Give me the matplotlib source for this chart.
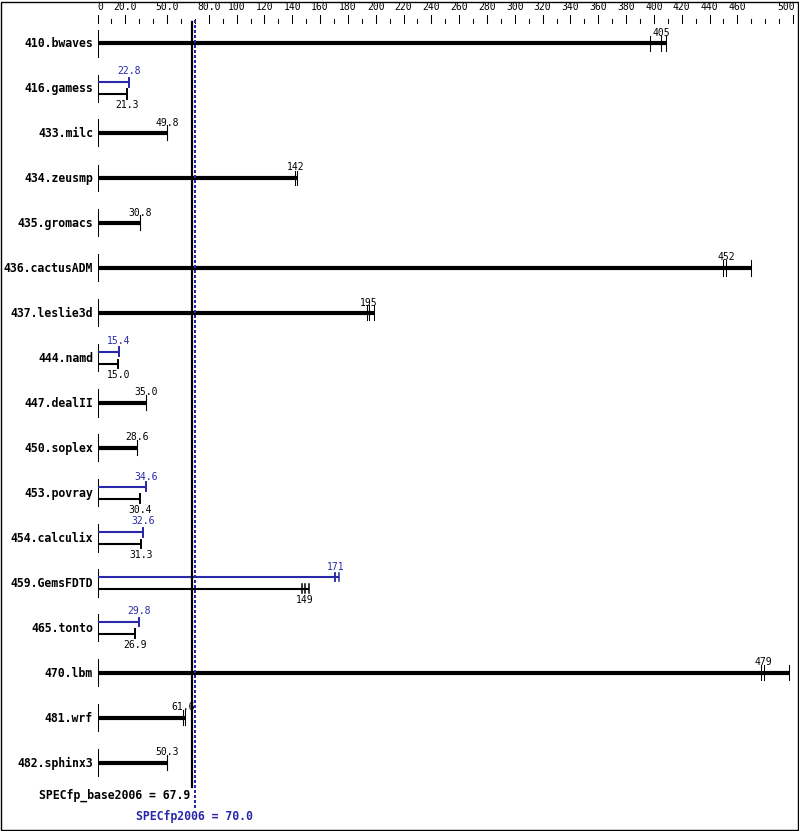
import matplotlib
matplotlib.use("Agg")
import matplotlib.pyplot as plt
from matplotlib.patches import Rectangle
import numpy as np

benchmarks = ["410.bwaves", "416.gamess", "433.milc", "434.zeusmp", "435.gromacs",
              "436.cactusADM", "437.leslie3d", "444.namd", "447.dealII", "450.soplex",
              "453.povray", "454.calculix", "459.GemsFDTD", "465.tonto", "470.lbm",
              "481.wrf", "482.sphinx3"]

# three runs per benchmark (base), peak only where it differs from base
base_runs = [[397, 405, 409], [21.3, 21.3, 21.3], [49.8, 49.8, 49.8],
             [142, 142.3, 143.7], [30.8, 30.8, 30.8], [450, 452, 470],
             [194, 195, 198.5], [15.0, 15.0, 15.0], [35.0, 35.0, 35.0],
             [28.6, 28.6, 28.6], [30.4, 30.4, 30.4], [31.3, 31.3, 31.3],
             [146.8, 149, 152.3], [26.9, 26.9, 26.9], [477, 479, 497],
             [61.6, 61.6, 63.0], [50.3, 50.3, 50.3]]
peak_runs = [None, [22.8, 22.8, 22.8], None, None, None, None, None,
             [15.4, 15.4, 15.4], None, None, [34.6, 34.6, 34.6],
             [32.6, 32.6, 32.6], [170.8, 171, 173.6], [29.8, 29.8, 29.8],
             None, None, None]

base_mean = 67.9
peak_mean = 70.0

tick_labels = {0: "0", 20: "20.0", 50: "50.0", 80: "80.0"}
for v in range(100, 461, 20):
    tick_labels[v] = str(v)
tick_labels[500] = "500"

blue = "#2828a8"
mono = "DejaVu Sans Mono"

W, H = 799, 831
x0px, xscale = 97.5, 1.391     # pixel of value 0, pixels per unit
row0px, rowpx = 43, 45         # first row centre, row spacing

fig = plt.figure(figsize=(W / 100, H / 100), dpi=100)
ax = fig.add_axes([0, 0, 1, 1])
ax.set_xlim(-x0px / xscale, (W - x0px) / xscale)
ax.set_ylim((H - row0px) / rowpx, -row0px / rowpx)
ax.axis("off")

P = 1.0 / rowpx            # one pixel in row units
ytop = -row0px / rowpx     # top of figure in row units


def fmt(v):
    return "%d" % round(v) if v >= 100 else "%.1f" % v


# top scale
for v in range(0, 501, 10):
    if v in tick_labels:
        ax.plot([v, v], [ytop + 15 * P, ytop + 23 * P], color="black", lw=0.75)
        ha = "right" if v == 500 else ("left" if v == 0 else "center")
        xx = v + (2 / xscale if v == 500 else 0)
        ax.text(xx, ytop + 7.5 * P, tick_labels[v], ha=ha, va="center",
                fontsize=7, family=mono)
    else:
        ax.plot([v, v], [ytop + 19 * P, ytop + 23 * P], color="black", lw=0.75)

for i, name in enumerate(benchmarks):
    ax.plot([0, 0], [i - 13.5 * P, i + 13.5 * P], color="black", lw=0.75)
    ax.text(-4.5 / xscale, i + 0.5 * P, name, ha="right", va="center", fontsize=8.3,
            family=mono, fontweight="bold")
    base = base_runs[i]
    peak = peak_runs[i]
    if peak is None:
        ax.plot([0, max(base)], [i, i], color="black", lw=3, solid_capstyle="butt")
        for r in base:
            ax.plot([r, r], [i - 7.5 * P, i + 7.5 * P], color="black", lw=0.75)
        ax.text(np.median(base), i - 10.5 * P, fmt(np.median(base)), ha="center",
                va="center", fontsize=7, family=mono)
    else:
        yp = i - 6 * P
        yb = i + 6 * P
        ax.plot([0, max(peak)], [yp, yp], color=blue, lw=1.5, solid_capstyle="butt")
        for r in peak:
            ax.plot([r, r], [yp - 4.5 * P, yp + 4.5 * P], color=blue, lw=1.1)
        ax.text(np.median(peak), yp - 10.5 * P, fmt(np.median(peak)), ha="center",
                va="center", fontsize=7, family=mono, color=blue)
        ax.plot([0, max(base)], [yb, yb], color="black", lw=1.5, solid_capstyle="butt")
        for r in base:
            ax.plot([r, r], [yb - 4.5 * P, yb + 4.5 * P], color="black", lw=1.1)
        ax.text(np.median(base), yb + 11 * P, fmt(np.median(base)), ha="center",
                va="center", fontsize=7, family=mono)

# mean lines
ax.plot([base_mean, base_mean], [ytop + 22 * P, ytop + 787 * P], color="black", lw=1.6)
ax.plot([peak_mean, peak_mean], [ytop + 20 * P, ytop + 808 * P], color=blue, lw=1.5,
        linestyle=(0, (1, 1)), antialiased=False)
ax.text(base_mean - 2 / xscale, ytop + 795 * P, "SPECfp_base2006 = %.1f" % base_mean,
        ha="right", va="center", fontsize=8.3, family=mono, fontweight="bold")
ax.text(peak_mean, ytop + 817 * P, "SPECfp2006 = %.1f" % peak_mean, ha="center",
        va="center", fontsize=8.3, family=mono, fontweight="bold", color=blue)

fig.patches.append(Rectangle((0.5 / W, 1.5 / H), (W - 2) / W, (H - 3) / H,
                             transform=fig.transFigure, fill=False,
                             edgecolor="black", lw=1))

fig.savefig("out.png", dpi=100)
